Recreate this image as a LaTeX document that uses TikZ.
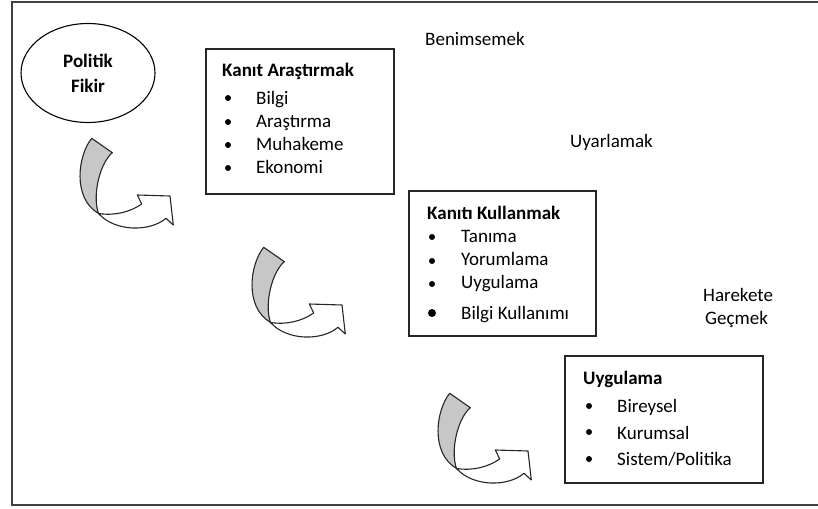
\documentclass[tikz,border=0pt]{standalone}
\usepackage{fontspec}
\setmainfont{Carlito}
\usetikzlibrary{shapes.geometric}
\tikzset{
 lbl/.style={anchor=base west,inner sep=0pt,font=\fontsize{19}{25}\selectfont},
 ttl/.style={anchor=base west,inner sep=0pt,font=\fontsize{19}{25}\selectfont\bfseries},
 bul/.style={circle,fill=black,inner sep=0pt,minimum size=6pt},
 bigbul/.style={circle,fill=black,inner sep=0pt,minimum size=8pt},
 box/.style={draw=black!85,line width=1.6pt,inner sep=0pt,anchor=north west},
 arr/.style={draw=black!85,line width=1.1pt,line join=round},
 curvarr/.pic={
  \path[arr,fill=white] (38.5,83.5) .. controls (55,86) and (70,82) .. (81.7,74)
     -- (77.3,65) -- (110,66) -- (113.3,95) -- (106,88.3)
     .. controls (90,102) and (55,102) .. (38.5,83.5) -- cycle;
  \path[arr,fill=black!22] (31.7,8.3) .. controls (18,25) and (12,68) .. (38.5,83.5)
     .. controls (32,65) and (40,33) .. (52.3,22.7) -- cycle;
 }
}
\begin{document}
\begin{tikzpicture}[x=1pt,y=-1pt]
\useasboundingbox (0,0) rectangle (818,508);
\draw[line width=1.8pt,draw=black!75] (840,2) -- (12,2) -- (12,505) -- (840,505);

% Politik Fikir
\node[draw,ellipse,line width=1.1pt,minimum width=134pt,minimum height=99pt] (pf) at (88,73) {};
\node[align=center,inner sep=0pt,font=\fontsize{19}{25}\selectfont\bfseries] (pft) at (pf.center) {Politik\\Fikir};

% Box 1
\node[box,minimum width=188pt,minimum height=145pt] (b1) at (205,48) {};
\node[ttl] (b1t) at (222,77) {Kanıt Araştırmak};
\node[bul] (b1b1) at (228,98) {};
\node[bul] (b1b2) at (228,122) {};
\node[bul] (b1b3) at (228,145) {};
\node[bul] (b1b4) at (228,168) {};
\node[lbl] (b1i1) at (256,104) {Bilgi};
\node[lbl] (b1i2) at (256,127) {Araştırma};
\node[lbl] (b1i3) at (256,150) {Muhakeme};
\node[lbl] (b1i4) at (256,173) {Ekonomi};

% Box 2
\node[box,minimum width=187pt,minimum height=145pt] (b2) at (408,190) {};
\node[ttl] (b2t) at (427,219) {Kanıtı Kullanmak};
\node[bul] (b2b1) at (432,237) {};
\node[bul] (b2b2) at (432,261) {};
\node[bul] (b2b3) at (432,284) {};
\node[bigbul] (b2b4) at (432,313) {};
\node[lbl] (b2i1) at (461,242) {Tanıma};
\node[lbl] (b2i2) at (461,265) {Yorumlama};
\node[lbl] (b2i3) at (461,288) {Uygulama};
\node[lbl] (b2i4) at (461,319) {Bilgi Kullanımı};

% Box 3
\node[box,minimum width=198pt,minimum height=127pt] (b3) at (564,355) {};
\node[ttl] (b3t) at (583,384) {Uygulama};
\node[bul] (b3b1) at (589,406) {};
\node[bul] (b3b2) at (589,432) {};
\node[bul] (b3b3) at (589,459) {};
\node[lbl] (b3i1) at (617,412) {Bireysel};
\node[lbl] (b3i2) at (617,439) {Kurumsal};
\node[lbl] (b3i3) at (617,465) {Sistem/Politika};

% side labels
\node[lbl] (l1) at (425,46) {Benimsemek};
\node[lbl] (l2) at (570,147) {Uyarlamak};
\node[lbl] (l3) at (703,301) {Harekete};
\node[lbl] (l4) at (705,324) {Geçmek};

% curved arrows
\pic at (60,130) {curvarr};
\pic at (232,239) {curvarr};
\pic at (418,385) {curvarr};
\end{tikzpicture}
\end{document}
